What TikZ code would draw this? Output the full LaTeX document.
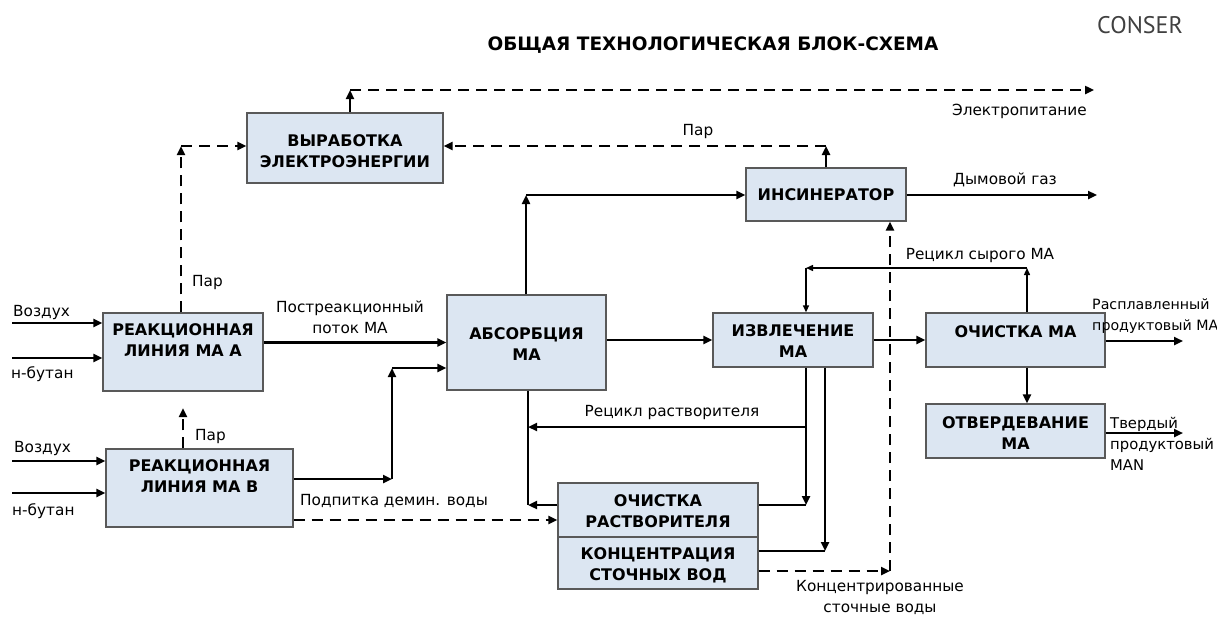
\documentclass[tikz,border=0pt]{standalone}
\usepackage{fontspec}
\setmainfont{DejaVu Sans}
\newfontfamily\conserfont{PT Sans}
\usetikzlibrary{arrows.meta}
\definecolor{boxfill}{HTML}{DCE6F2}
\definecolor{boxdraw}{HTML}{595959}
\tikzset{
  blk/.style={draw=boxdraw, fill=boxfill, line width=1.3pt, inner sep=0pt},
  btxt/.style={font=\fontsize{16}{21}\selectfont\bfseries, align=center, inner sep=0pt},
  lbl/.style={font=\fontsize{15.3}{21}\selectfont, inner sep=0pt},
  tip/.style={-{Triangle[length=9pt,width=8pt]}},
  flow/.style={line width=2.5pt, tip},
  flowplain/.style={line width=2.5pt},
  thin/.style={line width=1.4pt, -{Triangle[length=7pt,width=6pt]}},
  dsh/.style={line width=2.7pt, dash pattern=on 11pt off 7pt, tip},
  stem/.style={line width=2.7pt, tip},
}
\begin{document}
\begin{tikzpicture}[x=1pt,y=-1pt]
\useasboundingbox (0,0) rectangle (1217,616);

% title
\node[font=\fontsize{18.5}{22}\selectfont\bfseries, inner sep=0pt] (title) at (713,45) {ОБЩАЯ ТЕХНОЛОГИЧЕСКАЯ БЛОК-СХЕМА};
\node[font=\fontsize{24}{26}\conserfont, text=black!75, inner sep=0pt] (conser) at (1140,25) {CONSER};

% boxes
\node[blk, minimum width=196pt, minimum height=70pt] (vyr) at (345,148) {};
\node[blk, minimum width=160pt, minimum height=53pt] (ins) at (826,194.5) {};
\node[blk, minimum width=160pt, minimum height=78pt] (rA) at (183,352) {};
\node[blk, minimum width=187pt, minimum height=78pt] (rB) at (199.5,488) {};
\node[blk, minimum width=159pt, minimum height=95pt] (abs) at (526.5,342.5) {};
\node[blk, minimum width=160pt, minimum height=54pt] (izv) at (793,340) {};
\node[blk, minimum width=200pt, minimum height=54pt] (solv) at (658,510) {};
\node[blk, minimum width=200pt, minimum height=52pt] (konc) at (658,563) {};
\node[blk, minimum width=179pt, minimum height=54pt] (ochMA) at (1015.5,340) {};
\node[blk, minimum width=179pt, minimum height=54pt] (otv) at (1015.5,431) {};

% box texts
\node[btxt] (tvyr) at (345,151) {ВЫРАБОТКА\\ЭЛЕКТРОЭНЕРГИИ};
\node[btxt] (tins) at (826,195) {ИНСИНЕРАТОР};
\node[btxt] (trA) at (183,340) {РЕАКЦИОННАЯ\\ЛИНИЯ МА А};
\node[btxt] (trB) at (199.5,476) {РЕАКЦИОННАЯ\\ЛИНИЯ МА В};
\node[btxt] (tabs) at (526.5,344) {АБСОРБЦИЯ\\МА};
\node[btxt] (tizv) at (793,341.5) {ИЗВЛЕЧЕНИЕ\\МА};
\node[btxt] (tsolv) at (658,511.5) {ОЧИСТКА\\РАСТВОРИТЕЛЯ};
\node[btxt] (tkonc) at (658,565) {КОНЦЕНТРАЦИЯ\\СТОЧНЫХ ВОД};
\node[btxt] (tochMA) at (1015.5,332) {ОЧИСТКА МА};
\node[btxt] (totv) at (1015.5,433) {ОТВЕРДЕВАНИЕ\\МА};

% coordinates
\coordinate (eTop) at (350,90);
\coordinate (eEnd) at (1094,90);
\coordinate (pA) at (181,146);
\coordinate (pI) at (826,146);
\coordinate (aI) at (526,195);
\coordinate (smoke) at (1097,195);
\coordinate (kc) at (890,571);
\coordinate (rs1) at (1027,268);
\coordinate (rs2) at (806,268);
\coordinate (b1) at (392,479);
\coordinate (b2) at (392,368);
\coordinate (in1) at (12,323);
\coordinate (in2) at (12,358);
\coordinate (in3) at (12,461);
\coordinate (in4) at (12,493);
\coordinate (pB) at (183,408);
\coordinate (pd) at (293,520);
\coordinate (o1) at (1183,341);
\coordinate (o2) at (1183,433);
\coordinate (r1) at (806,427);
\coordinate (r2) at (528,427);
\coordinate (r3) at (806,505);
\coordinate (s1) at (528,505);
\coordinate (c1) at (825,551);

% power output
\draw[stem] (vyr.north -| eTop) -- (eTop);
\draw[dsh] (eTop) -- (eEnd);
% steam from A
\draw[dsh] (rA.north -| pA) -- (pA);
\draw[dsh] (pA) -- (vyr.west |- pA);
% steam from incinerator
\draw[stem] (ins.north) -- (pI);
\draw[dsh] (pI) -- (vyr.east |- pI);
% absorption to incinerator
\draw[flow] (abs.north -| aI) -- (aI);
\draw[flow] (aI) -- (ins.west |- aI);
% flue gas
\draw[flow] (ins.east |- smoke) -- (smoke);
% concentrated waste water
\draw[dsh] (konc.east |- kc) -- (kc);
\draw[dsh] (kc) -- (ins.south -| kc);
% crude MA recycle
\draw[thin] (ochMA.north -| rs1) -- (rs1);
\draw[thin] (rs1) -- (rs2);
\draw[thin] (rs2) -- (izv.north -| rs2);
% reactor A to absorption
\draw[flow] (rA.east |- abs.west) -- (abs.west);
% reactor B to absorption
\draw[flow] (rB.east |- b1) -- (b1);
\draw[flow] (b1) -- (b2);
\draw[flow] (b2) -- (abs.west |- b2);
% inputs
\draw[flow] (in1) -- (rA.west |- in1);
\draw[flow] (in2) -- (rA.west |- in2);
\draw[flow] (in3) -- (rB.west |- in3);
\draw[flow] (in4) -- (rB.west |- in4);
% steam from B
\draw[dsh] (rB.north -| pB) -- (pB);
% demin water
\draw[dsh] (rB.east |- pd) -- (solv.west |- pd);
% main line
\draw[flow] (abs.east |- izv.west) -- (izv.west);
\draw[flow] (izv.east) -- (ochMA.west |- izv.east);
\draw[flow] (ochMA.south -| rs1) -- (otv.north -| rs1);
\draw[flow] (ochMA.east |- o1) -- (o1);
\draw[flow] (otv.east |- o2) -- (o2);
% solvent recycle
\draw[flow] (izv.south -| r1) -- (r3);
\draw[flow] (r1) -- (r2);
\draw[flowplain] (solv.east |- r3) -- (r3);
\draw[flowplain] (abs.south -| s1) -- (s1);
\draw[flow] (solv.west |- s1) -- (s1);
\draw[flow] (izv.south -| c1) -- (c1);
\draw[flowplain] (konc.east |- c1) -- (c1);

% labels
\node[lbl, anchor=east] (lel) at (1087,111) {Электропитание};
\node[lbl] (lpi) at (698,132) {Пар};
\node[lbl, anchor=west] (lpa) at (192,283) {Пар};
\node[lbl] (lsm) at (1005,180) {Дымовой газ};
\node[lbl] (lrs) at (980,256) {Рецикл сырого МА};
\node[lbl, align=center] (lpost) at (350,317) {Постреакционный\\поток МА};
\node[lbl, anchor=west] (lpb) at (195,437) {Пар};
\node[lbl, anchor=west] (lpd) at (300,501) {Подпитка демин. воды};
\node[lbl] (lrr) at (672,413) {Рецикл растворителя};
\node[lbl, align=center] (lkc) at (880,597) {Концентрированные\\сточные воды};
\node[lbl, font=\fontsize{14.2}{21}\selectfont, align=left, anchor=west] (lmelt) at (1092,316.5) {Расплавленный\\продуктовый МА};
\node[lbl, font=\fontsize{14.8}{21}\selectfont, align=left, anchor=west] (lsol) at (1110,444) {Твердый\\продуктовый\\MAN};
\node[lbl, anchor=west] (lv1) at (13,313) {Воздух};
\node[lbl, anchor=west] (lb1) at (11,374) {н-бутан};
\node[lbl, anchor=west] (lv2) at (14,449) {Воздух};
\node[lbl, anchor=west] (lb2) at (12,511) {н-бутан};
\end{tikzpicture}
\end{document}
